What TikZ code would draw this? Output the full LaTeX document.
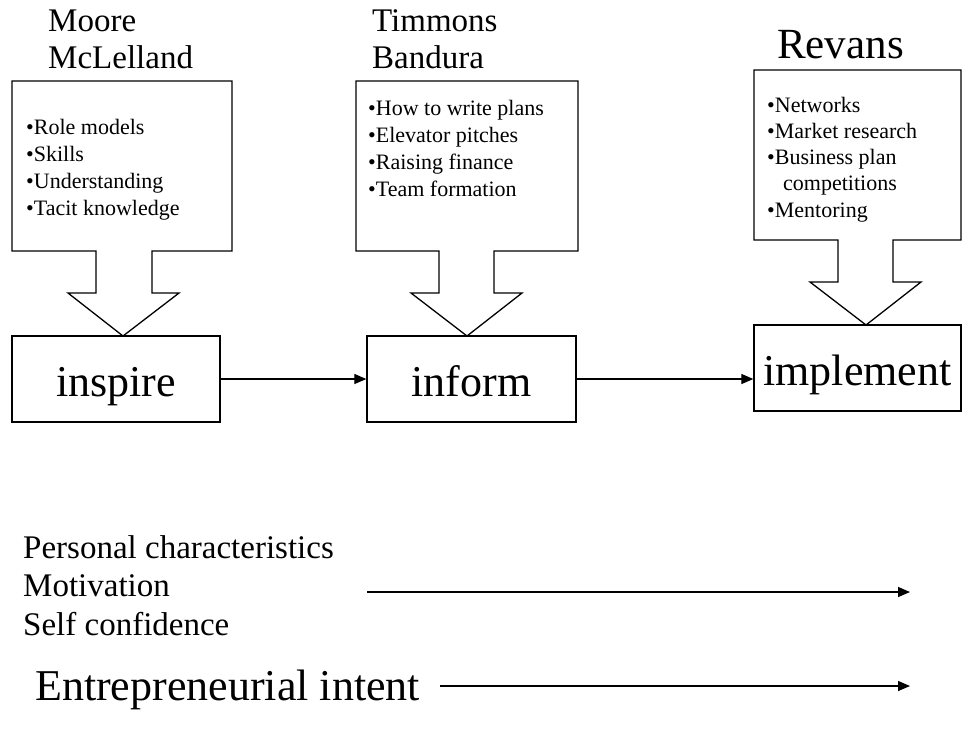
\documentclass[tikz,border=0pt]{standalone}
\usepackage{fontspec}
\setmainfont{Liberation Serif}
\usetikzlibrary{arrows.meta,positioning}

\tikzset{
  stagebox/.style={draw, line width=1.3pt, inner sep=0pt, minimum height=86pt,
    text height=40pt, text depth=6pt, font=\fontsize{44}{50}\selectfont},
  bullets/.style={anchor=base west, inner sep=0pt, align=left, font=\fontsize{22}{26.7}\selectfont},
  names/.style={anchor=base west, inner sep=0pt, align=left, font=\fontsize{33}{37}\selectfont},
  flow/.style={line width=1.2pt, -{Triangle[length=12pt,width=10pt]}},
  callout/.style={draw, line width=1.3pt}
}

\begin{document}
\begin{tikzpicture}[x=1pt, y=-1pt]
  \useasboundingbox (0,0) rectangle (963,732);

  % stages
  \node[stagebox, minimum width=208pt] (inspire) at (116,379) {inspire};
  \node[stagebox, minimum width=209pt] (inform) at (471.5,379) {inform};
  \node[stagebox, minimum width=207pt] (implement) at (857.5,368) {implement};

  % callouts
  \draw[callout] (12,81) -- (232,81) -- (232,251) -- (152,251) -- (152,293) -- (179,293)
    -- (123,336) -- (68,293) -- (96,293) -- (96,251) -- (12,251) -- cycle;
  \draw[callout] (356,81) -- (578,81) -- (578,251) -- (494,251) -- (494,293) -- (522,293)
    -- (467,336) -- (411,293) -- (439,293) -- (439,251) -- (356,251) -- cycle;
  \draw[callout] (754,70) -- (961,70) -- (961,240) -- (893,240) -- (893,282) -- (921,282)
    -- (866,325) -- (810,282) -- (838,282) -- (838,240) -- (754,240) -- cycle;

  % callout texts (anchored on the last line)
  \node[bullets] (inspirelist) at (26,215) {•Role models\\•Skills\\•Understanding\\•Tacit knowledge};
  \node[bullets] (informlist) at (368,196) {•How to write plans\\•Elevator pitches\\•Raising finance\\•Team formation};
  \node[bullets, font=\fontsize{22}{26.2}\selectfont] (implementlist) at (767,217)
    {•Networks\\•Market research\\•Business plan\\\hspace*{16pt}competitions\\•Mentoring};

  % authors
  \node[names] (moore) at (48,68) {Moore\\McLelland};
  \node[names] (timmons) at (372,68) {Timmons\\Bandura};
  \node[names, font=\fontsize{43}{48}\selectfont] (revans) at (777,58) {Revans};

  % flow between stages
  \draw[flow] (inspire.east) -- (inform.west);
  \draw[flow] (inform.east) -- (inform.east -| implement.west);

  % lower part
  \node[names, font=\fontsize{33}{38.5}\selectfont] (traits) at (23,635)
    {Personal characteristics\\Motivation\\Self confidence};
  \node[names, font=\fontsize{44}{50}\selectfont] (intent) at (35,700) {Entrepreneurial intent};
  \coordinate (traitsA) at (367,592);
  \coordinate (traitsB) at (910,592);
  \coordinate (intentA) at (440,686);
  \coordinate (intentB) at (910,686);
  \draw[flow] (traitsA) -- (traitsB);
  \draw[flow] (intentA) -- (intentB);
\end{tikzpicture}
\end{document}
